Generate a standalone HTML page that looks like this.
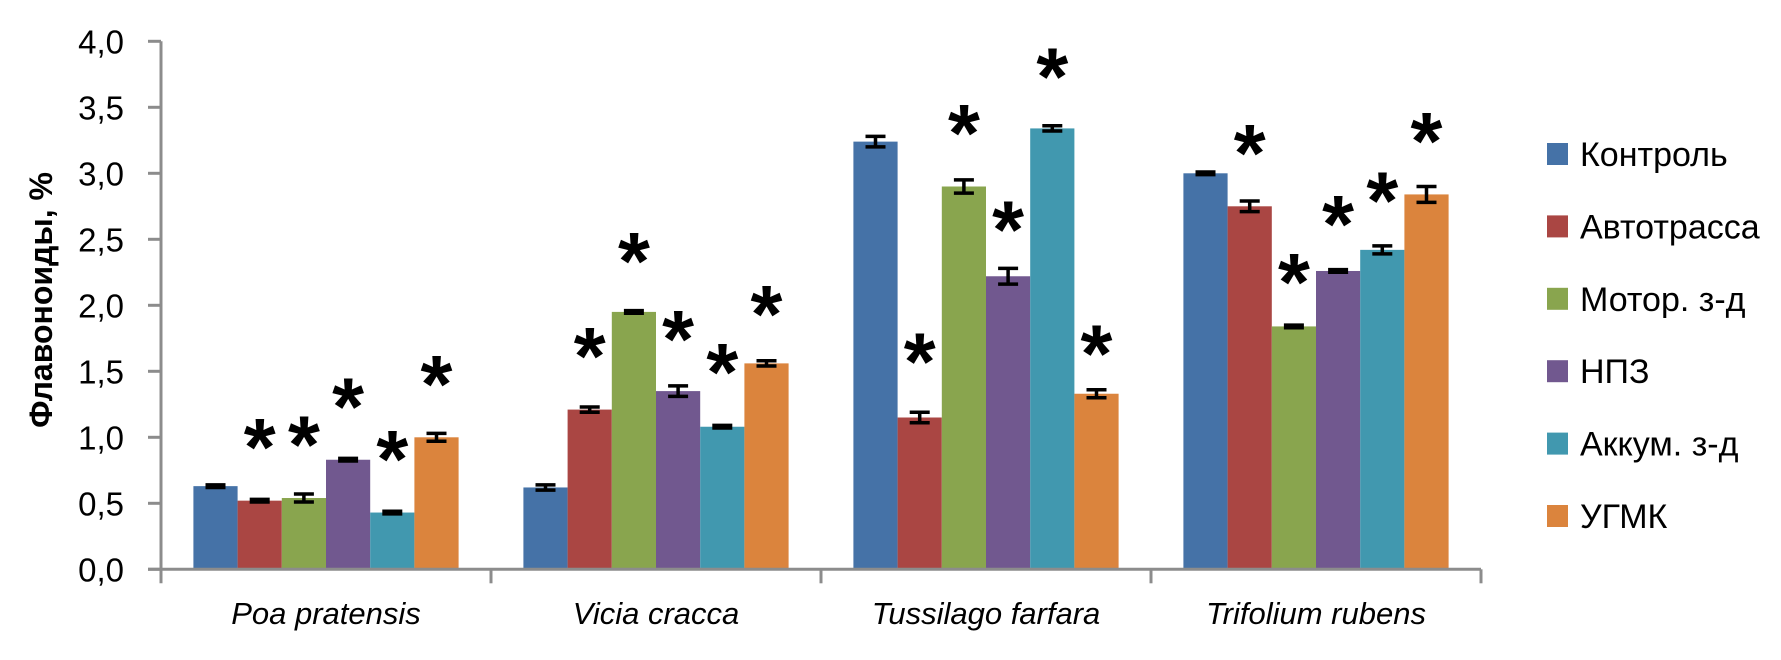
<!DOCTYPE html>
<html><head><meta charset="utf-8"><style>
body{margin:0;background:#fff}
svg text{font-family:"Liberation Sans",sans-serif}
</style></head><body>
<svg id="c" width="1781" height="655" xmlns="http://www.w3.org/2000/svg"></svg>
<script>
const categories=["Poa pratensis","Vicia cracca","Tussilago farfara","Trifolium rubens"];
const series=["Контроль","Автотрасса","Мотор. з-д","НПЗ","Аккум. з-д","УГМК"];
const colors=["#4572A7","#AA4643","#89A54E","#71588F","#4198AF","#DB843D"];
const values=[
 [0.63,0.52,0.54,0.83,0.43,1.00],
 [0.62,1.21,1.95,1.35,1.08,1.56],
 [3.24,1.15,2.90,2.22,3.34,1.33],
 [3.00,2.75,1.84,2.26,2.42,2.84]];
const errors=[
 [0.01,0.01,0.03,0.01,0.01,0.03],
 [0.02,0.02,0.01,0.04,0.01,0.02],
 [0.04,0.04,0.05,0.06,0.02,0.03],
 [0.01,0.04,0.01,0.01,0.03,0.06]];
const stars=[
 [null,1.05,1.07,1.36,0.96,1.53],
 [null,1.74,2.46,1.87,1.62,2.06],
 [null,1.70,3.43,2.70,3.86,1.76],
 [null,3.28,2.30,2.74,2.92,3.37]];
const yTicks=["0,0","0,5","1,0","1,5","2,0","2,5","3,0","3,5","4,0"];
const NS="http://www.w3.org/2000/svg";
const svg=document.getElementById('c');
const x0=161,y0=569.3,unit=132,G=330,bw=44.2,pad=(G-6*bw)/2;
const Y=v=>y0-v*unit;
const X=(g,s)=>x0+g*G+pad+s*bw;
function mk(t,a,p){const e=document.createElementNS(NS,t);for(const k in a)e.setAttribute(k,a[k]);(p||svg).appendChild(e);return e;}
values.forEach((row,g)=>row.forEach((v,s)=>{
 const r=mk('rect',{x:X(g,s),y:Y(v),width:bw,height:v*unit,fill:colors[s]});
 
 
 const cx=X(g,s)+bw/2,e=errors[g][s];
 const eb=mk('path',{d:`M${cx-10} ${Y(v+e)}H${cx+10}M${cx} ${Y(v+e)}V${Y(v-e)}M${cx-10} ${Y(v-e)}H${cx+10}`,stroke:'#000','stroke-width':3.5,fill:'none'});
 
 
 if(stars[g][s]!==null){
  const t=mk('text',{x:cx,y:Y(stars[g][s])+45,'text-anchor':'middle','font-size':82,'font-weight':'bold',fill:'#000'});
  t.textContent='*';
  
  
 }
}));
const ax=mk('path',{d:`M${x0} ${Y(4)}V${y0+14}M${x0-13} ${y0}H${x0+4*G}`,stroke:'#8c8c8c','stroke-width':3,fill:'none'});


yTicks.forEach((l,i)=>{
 const v=i*0.5;
 mk('path',{d:`M${x0-13} ${Y(v)}H${x0}`,stroke:'#8c8c8c','stroke-width':3});
 const t=mk('text',{x:124,y:Y(v)+12,'text-anchor':'end','font-size':33,fill:'#000'});
 t.textContent=l;
 
 
});
for(let g=1;g<=4;g++)mk('path',{d:`M${x0+g*G} ${y0}V${y0+14}`,stroke:'#8c8c8c','stroke-width':3});
categories.forEach((c,g)=>{
 const t=mk('text',{x:x0+g*G+G/2,y:624,'text-anchor':'middle','font-size':31,'font-style':'italic',fill:'#000'});
 t.textContent=c;
 
 
});
const yt=mk('text',{x:0,y:0,transform:'translate(52 300) rotate(-90)','text-anchor':'middle','font-size':32,'font-weight':'bold',fill:'#000'});
yt.textContent='Флавоноиды, %';


series.forEach((s,i)=>{
 const cy=154+i*72.4;
 const g=mk('g',{});
 
 
 mk('rect',{x:1547,y:cy-11,width:21,height:22,fill:colors[i]},g);
 const t=mk('text',{x:1580,y:cy+12,'font-size':34,fill:'#000'},g);
 t.textContent=s;
});
</script>
</body></html>
